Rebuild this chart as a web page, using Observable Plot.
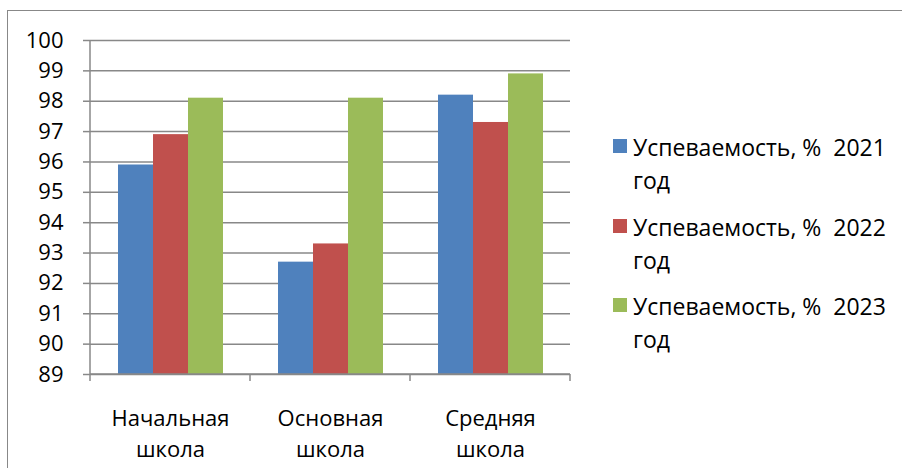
<!DOCTYPE html>
<html><head><meta charset="utf-8">
<script src="https://cdn.jsdelivr.net/npm/d3@7"></script>
<script src="https://cdn.jsdelivr.net/npm/@observablehq/plot@0.6"></script>
<style>
html,body{margin:0;padding:0;background:#fff;overflow:hidden;}
#wrap{position:relative;width:902px;height:468px;font-family:'Open Sans',sans-serif;overflow:hidden;}
#wrap svg{position:absolute;left:0;top:0;}
#border{position:absolute;left:7px;top:10px;width:1000px;height:1000px;border:1.5px solid #888;box-sizing:border-box;pointer-events:none;}
#legend{position:absolute;left:612px;top:131px;font-size:23px;line-height:33px;color:#000;}
.item{position:relative;padding-left:21px;margin-bottom:13.5px;white-space:pre;}
.sw{position:absolute;left:0.7px;top:8.3px;width:14px;height:14px;}
</style></head><body><div id="wrap"><div id="border"></div><div id="legend"></div></div>
<script>
const schools = ["Начальная школа", "Основная школа", "Средняя школа"];
const years = ["2021", "2022", "2023"];
const v2021 = [95.9, 92.7, 98.2];
const v2022 = [96.9, 93.3, 97.3];
const v2023 = [98.1, 98.1, 98.9];
const yDomain = [89, 100];
const yTicks = [89, 90, 91, 92, 93, 94, 95, 96, 97, 98, 99, 100];
const colors = ["#4F81BD", "#C0504D", "#9BBB59"];
const legendLabels = ["Успеваемость, %  2021\nгод", "Успеваемость, %  2022\nгод", "Успеваемость, %  2023\nгод"];
const gridColor = "#888888";

const series = [v2021, v2022, v2023];
const data = [];
schools.forEach((s, i) => years.forEach((y, j) => data.push({school: s, year: y, value: series[j][i]})));

const chart = Plot.plot({
  width: 902,
  height: 468,
  marginLeft: 90,
  marginRight: 332,
  marginTop: 40,
  marginBottom: 94,
  style: {fontFamily: "'Open Sans', sans-serif", fontSize: "22px", color: "#000", background: "transparent"},
  fx: {domain: schools, padding: 0},
  x: {domain: years, paddingInner: 0, paddingOuter: 0.743, axis: null},
  y: {domain: yDomain},
  color: {domain: years, range: colors},
  marks: [
    Plot.ruleY(yTicks, {stroke: gridColor, strokeWidth: 1.5, strokeOpacity: 1}),
    Plot.barY(data, {fx: "school", x: "year", y1: yDomain[0], y2: "value", fill: "year"}),
    Plot.axisY({ticks: yTicks, tickSize: 7, tickPadding: 20, fontSize: 22, stroke: gridColor, strokeWidth: 1.5, strokeOpacity: 1, label: null, tickFormat: d => String(d)}),
    Plot.axisFx({anchor: "bottom", tickSize: 0, tickPadding: 29, fontSize: 22, lineHeight: 1.41, label: null, tickFormat: d => d.replace(" ", "\n")})
  ]
});

const fxS = chart.scale("fx"), yS = chart.scale("y");
const xa = fxS.apply(schools[0]);
const xb = fxS.apply(schools[schools.length - 1]) + fxS.bandwidth;
const yb = yS.apply(yDomain[0]), yt = yS.apply(yDomain[1]);
const g = d3.select(chart).append("g").attr("stroke", gridColor).attr("stroke-width", 1.5);
g.append("line").attr("x1", xa).attr("x2", xa).attr("y1", yt).attr("y2", yb);
g.append("line").attr("x1", xa).attr("x2", xb).attr("y1", yb).attr("y2", yb);
[...schools.map(s => fxS.apply(s)), xb].forEach(x => {
  g.append("line").attr("x1", x).attr("x2", x).attr("y1", yb).attr("y2", yb + 7);
});

const wrap = document.getElementById("wrap");
wrap.insertBefore(chart, wrap.firstChild);

const legend = d3.select("#legend");
years.forEach((y, i) => {
  const it = legend.append("div").attr("class", "item");
  it.append("span").attr("class", "sw").style("background", colors[i]);
  it.append("span").text(legendLabels[i]);
});
</script></body></html>
